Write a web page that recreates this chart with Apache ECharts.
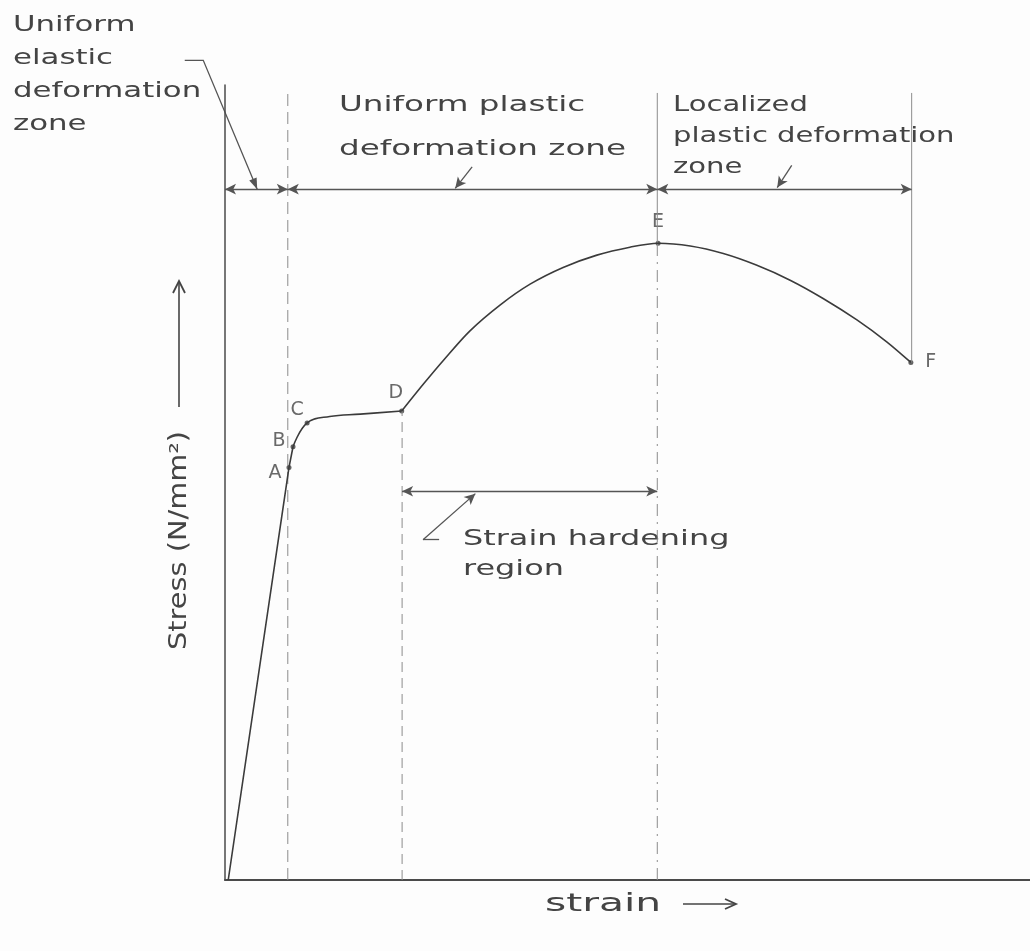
<!DOCTYPE html>
<html>
<head>
<meta charset="utf-8">
<title>Stress-strain curve</title>
<script src="https://cdn.jsdelivr.net/npm/echarts@6/dist/echarts.min.js"></script>
<style>
  html, body { margin: 0; padding: 0; background: #fdfdfd; }
  #chart01 { width: 1030px; height: 951px; }
</style>
</head>
<body>
<div id="chart01"></div>
<script>
// values, arbitrary units (axis 0..100)
var strain = [0.4, 7.95, 8.45, 10.2, 13.0, 16.8, 21.95,
  24.7, 27.2, 30.4, 34.2, 37.9, 42.0, 46.2, 50.3, 53.8,
  57.8, 61.9, 66.0, 70.2, 74.3, 78.5, 82.2, 85.2];
var stress = [0, 51.9, 54.5, 57.5, 58.3, 58.6, 59.0,
  62.45, 65.45, 69.05, 72.35, 74.95, 77.05, 78.6, 79.6, 80.1,
  79.75, 78.8, 77.35, 75.45, 73.15, 70.45, 67.7, 65.1];

var pointNames = ['A', 'B', 'C', 'D', 'E', 'F'];
var pointStrain = [7.95, 8.45, 10.2, 21.95, 53.8, 85.2];
var pointStress = [51.9, 54.5, 57.5, 59.0, 80.1, 65.1];

// zone limits: elastic | uniform plastic | localized
var zoneEdges = [0, 7.8, 53.7, 85.3];
var zoneArrowStress = 86.9;
var hardeningEdges = [22.0, 53.7];
var hardeningArrowStress = 48.9;
var guideTop = 99;

// pointer from the elastic zone note (starts outside the plot)
var leaderStrain = [-5.0, -2.7, 4.0];
var leaderStress = [103.1, 103.1, 86.9];

var ink = '#3b3b3b';
var pencil = '#8c8c8c';
var hand = 'DejaVu Sans';

function pairs(from, to) {
  var out = [];
  for (var i = from; i <= to; i++) out.push([strain[i], stress[i]]);
  return out;
}

function curve(data, smooth) {
  return {
    type: 'line', data: data, smooth: smooth, symbol: 'none', silent: true,
    lineStyle: { color: ink, width: 1.6 }
  };
}

function guide(x, y0, y1, type) {
  return {
    type: 'line', data: [[x, y0], [x, y1]], symbol: 'none', silent: true,
    lineStyle: { color: pencil, width: 1, type: type }
  };
}

var letterPlace = {
  A: { position: 'left', distance: 5, offset: [0, 6] },
  B: { position: 'left', distance: 5, offset: [0, -6] },
  C: { position: 'top', distance: 1, offset: [-10, 0] },
  D: { position: 'top', distance: 6, offset: [-6, 0] },
  E: { position: 'top', distance: 9, offset: [0, 0] },
  F: { position: 'right', distance: 12, offset: [0, 0] }
};

var points = pointNames.map(function (n, i) {
  var p = letterPlace[n];
  return {
    name: n, value: [pointStrain[i], pointStress[i]],
    label: { position: p.position, distance: p.distance, offset: p.offset }
  };
});

var arrowLines = [];
for (var z = 0; z < zoneEdges.length - 1; z++) {
  arrowLines.push([{ coord: [zoneEdges[z], zoneArrowStress] }, { coord: [zoneEdges[z + 1], zoneArrowStress] }]);
}
arrowLines.push([{ coord: [hardeningEdges[0], hardeningArrowStress] }, { coord: [hardeningEdges[1], hardeningArrowStress] }]);

// little hand-drawn pointers
var pointers = [
  [{ coord: [30.7, 89.7], symbol: 'none' }, { coord: [28.6, 87.0], symbol: 'arrow' }],
  [{ coord: [70.4, 89.9], symbol: 'none' }, { coord: [68.6, 87.1], symbol: 'arrow' }],
  [{ coord: [24.6, 42.8], symbol: 'none' }, { coord: [31.1, 48.6], symbol: 'arrow' }],
  [{ coord: [24.6, 42.8], symbol: 'none' }, { coord: [26.6, 42.8], symbol: 'none' }]
];

var chart01 = echarts.init(document.getElementById('chart01'));

var option_c01 = {
  backgroundColor: '#fdfdfd',
  animation: false,
  grid: { left: 225, right: 0, top: 85, bottom: 71 },
  xAxis: {
    type: 'value', min: 0, max: 100,
    axisLine: { lineStyle: { color: '#4a4a4a', width: 2 } },
    axisTick: { show: false }, axisLabel: { show: false }, splitLine: { show: false }
  },
  yAxis: {
    type: 'value', min: 0, max: 100,
    axisLine: { show: true, lineStyle: { color: '#4a4a4a', width: 1.5 } },
    axisTick: { show: false }, axisLabel: { show: false }, splitLine: { show: false }
  },
  series: [
    guide(zoneEdges[1], 0, guideTop, [12, 6]),
    guide(hardeningEdges[0], 0, pointStress[3], [10, 6]),
    guide(zoneEdges[2], 0, pointStress[4], [12, 6, 2, 6]),
    guide(zoneEdges[2], pointStress[4], guideTop, 'solid'),
    guide(zoneEdges[3], pointStress[5], guideTop, 'solid'),
    curve(pairs(0, 2), false),
    curve(pairs(2, 6), 0.4),
    curve(pairs(6, strain.length - 1), 0.3),
    {
      type: 'line', data: [], silent: true,
      markLine: {
        silent: true, symbol: ['arrow', 'arrow'], symbolSize: [8, 11],
        label: { show: false },
        lineStyle: { color: '#555', width: 1.3, type: 'solid' },
        data: arrowLines.concat(pointers)
      }
    },
    {
      type: 'scatter', data: points, symbolSize: 5, silent: true,
      itemStyle: { color: ink },
      label: {
        show: true, formatter: '{b}', color: '#444',
        fontFamily: hand, fontSize: 19
      }
    }
  ],
  graphic: [
    {
      type: 'text', x: 13, y: 9, scaleX: 1.4,
      style: { text: 'Uniform\nelastic\ndeformation\nzone', fill: '#444', fontFamily: hand, fontSize: 22, lineHeight: 33, verticalAlign: 'top' }
    },
    {
      type: 'text', x: 339, y: 83, scaleX: 1.48,
      style: { text: 'Uniform plastic\ndeformation zone', fill: '#444', fontFamily: hand, fontSize: 22, lineHeight: 44, verticalAlign: 'top' }
    },
    {
      type: 'text', x: 673, y: 90, scaleX: 1.32,
      style: { text: 'Localized\nplastic deformation\nzone', fill: '#444', fontFamily: hand, fontSize: 22, lineHeight: 31, verticalAlign: 'top' }
    },
    {
      type: 'text', x: 463, y: 524, scaleX: 1.45,
      style: { text: 'Strain hardening\nregion', fill: '#444', fontFamily: hand, fontSize: 22, lineHeight: 30, verticalAlign: 'top' }
    },
    {
      type: 'text', x: 545, y: 905, scaleX: 1.7,
      style: { text: 'strain', fill: '#444', fontFamily: hand, fontSize: 24, verticalAlign: 'middle' }
    },
    { type: 'polyline', shape: { points: [[683, 904], [735, 904]] }, style: { stroke: '#444', lineWidth: 1.6 } },
    { type: 'polyline', shape: { points: [[725, 899], [736, 904], [725, 909]] }, style: { stroke: '#444', lineWidth: 1.8, fill: null } },
    {
      type: 'text', x: 180, y: 650, rotation: Math.PI / 2, scaleX: 1.2,
      style: { text: 'Stress (N/mm²)', fill: '#444', fontFamily: hand, fontSize: 24, verticalAlign: 'middle' }
    },
    { type: 'polyline', shape: { points: [[179, 407], [179, 281]] }, style: { stroke: '#444', lineWidth: 1.6 } },
    { type: 'polyline', shape: { points: [[173, 293], [179, 281], [185, 293]] }, style: { stroke: '#444', lineWidth: 1.8, fill: null } }
  ]
};

chart01.setOption(option_c01);

// leader for the elastic-zone note, placed through the axes
var lp = leaderStrain.map(function (x, i) {
  return chart01.convertToPixel({ gridIndex: 0 }, [x, leaderStress[i]]);
});
var a = lp[lp.length - 2], b = lp[lp.length - 1];
var dx = b[0] - a[0], dy = b[1] - a[1], len = Math.sqrt(dx * dx + dy * dy);
var ux = dx / len, uy = dy / len;
var head = [
  b,
  [b[0] - 11 * ux + 4 * uy, b[1] - 11 * uy - 4 * ux],
  [b[0] - 11 * ux - 4 * uy, b[1] - 11 * uy + 4 * ux]
];
chart01.setOption({
  graphic: option_c01.graphic.concat([
    { type: 'polyline', shape: { points: lp }, style: { stroke: '#555', lineWidth: 1.3, fill: null } },
    { type: 'polygon', shape: { points: head }, style: { fill: '#555' } }
  ])
});
</script>
</body>
</html>
